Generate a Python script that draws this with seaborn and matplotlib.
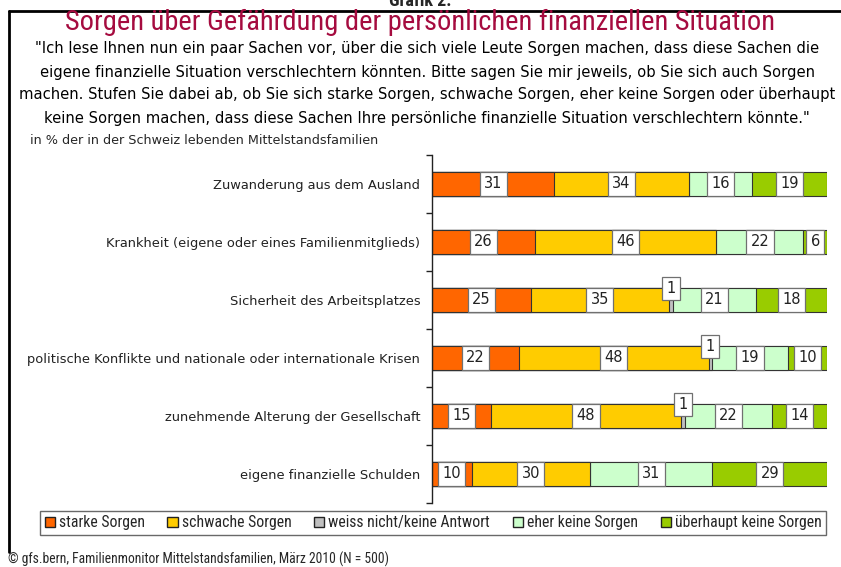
import numpy as np
import pandas as pd
import matplotlib
matplotlib.use('Agg')
import matplotlib.pyplot as plt
import matplotlib.patches as mpatches
from matplotlib import font_manager
import seaborn as sns

categories = ['Zuwanderung aus dem Ausland',
              'Krankheit (eigene oder eines Familienmitglieds)',
              'Sicherheit des Arbeitsplatzes',
              'politische Konflikte und nationale oder internationale Krisen',
              'zunehmende Alterung der Gesellschaft',
              'eigene finanzielle Schulden']
series = ['starke Sorgen', 'schwache Sorgen', 'weiss nicht/keine Antwort',
          'eher keine Sorgen', 'überhaupt keine Sorgen']
starke = [31, 26, 25, 22, 15, 10]
schwache = [34, 46, 35, 48, 48, 30]
weiss_nicht = [0, 0, 1, 1, 1, 0]
eher_keine = [16, 22, 21, 19, 22, 31]
ueberhaupt_keine = [19, 6, 18, 10, 14, 29]
colors = ['#FF6600', '#FFCC00', '#C0C0C0', '#CCFFCC', '#99CC00']

df = pd.DataFrame({'Thema': categories, series[0]: starke, series[1]: schwache,
                   series[2]: weiss_nicht, series[3]: eher_keine, series[4]: ueberhaupt_keine})
cum = df[series].cumsum(axis=1)
cum['Thema'] = df['Thema']

sns.set_style('white')

installed = {f.name for f in font_manager.fontManager.ttflist}
def pick(cands):
    for c in cands:
        if c in installed:
            return [c, 'DejaVu Sans']
    return ['DejaVu Sans']

narrow = pick(['Liberation Sans Narrow', 'Arial Narrow', 'Roboto Condensed', 'Archivo Narrow',
               'PT Sans Narrow', 'Open Sans Condensed', 'Pragati Narrow', 'Roboto'])
tahoma = pick(['Tahoma', 'DejaVu Sans'])
plt.rcParams['font.family'] = tahoma

fig = plt.figure(figsize=(8.41, 5.67), dpi=100)
ax = fig.add_axes([432 / 841, 1 - 503 / 567, 395 / 841, 348 / 567])

# stacked bars: draw cumulative totals from the last series backwards
for s, c in reversed(list(zip(series, colors))):
    sns.barplot(data=cum, x=s, y='Thema', color=c, saturation=1, orient='h', width=0.43,
                edgecolor='#333333', linewidth=0.8, ax=ax)

# value labels
for i, t in enumerate(categories):
    for s in series:
        v = df.loc[i, s]
        if v == 0:
            continue
        xc = cum.loc[i, s] - v / 2
        yc = i - 0.2 if s == series[2] else i
        ax.text(xc, yc, str(v), ha='center', va='center', fontsize=10.5, color='#222222',
                bbox=dict(boxstyle='square,pad=0.3', fc='white', ec='#707070', lw=0.9))

ax.set_xlim(0, 100)
ax.set_ylim(5.5, -0.5)
ax.set_xlabel('')
ax.set_ylabel('')
ax.set_xticks([])
ax.set_yticks(range(len(categories)))
ax.set_yticklabels(categories, fontsize=9.4, color='#222222')
ax.set_yticks(np.arange(-0.5, 6, 1), minor=True)
ax.tick_params(axis='y', which='major', length=0, pad=8.5)
ax.tick_params(axis='y', which='minor', length=4, width=1, color='#222222', direction='out', left=True)
for sp in ['top', 'right', 'bottom']:
    ax.spines[sp].set_visible(False)
ax.spines['left'].set_color('#222222')
ax.spines['left'].set_linewidth(1)

# titles
fig.text(0.5, 1 - 6 / 567, 'Grafik 2:', ha='center', va='baseline', fontsize=13,
         fontweight='bold', family=narrow)
fig.text(0.5, 1 - 22.5 / 567, 'Sorgen über Gefährdung der persönlichen finanziellen Situation',
         ha='center', va='center', fontsize=20.5, color='#A50B3F', family=narrow)
sub = ['"Ich lese Ihnen nun ein paar Sachen vor, über die sich viele Leute Sorgen machen, dass diese Sachen die',
       'eigene finanzielle Situation verschlechtern könnten. Bitte sagen Sie mir jeweils, ob Sie sich auch Sorgen',
       'machen. Stufen Sie dabei ab, ob Sie sich starke Sorgen, schwache Sorgen, eher keine Sorgen oder überhaupt',
       'keine Sorgen machen, dass diese Sachen Ihre persönliche finanzielle Situation verschlechtern könnte."']
for k, line in enumerate(sub):
    fig.text(427 / 841, 1 - (49 + 23 * k) / 567, line, ha='center', va='center', fontsize=10.6,
             color='black', family=tahoma)
fig.text(30 / 841, 1 - 140 / 567, 'in % der in der Schweiz lebenden Mittelstandsfamilien',
         ha='left', va='center', fontsize=9.2, family=tahoma)

handles = [mpatches.Patch(facecolor=c, edgecolor='#222222', label=s) for s, c in zip(series, colors)]
leg = fig.legend(handles=handles, loc='center', bbox_to_anchor=(433 / 841, 1 - 523 / 567), ncol=5,
                 prop={'family': narrow, 'size': 11.3}, frameon=True, fancybox=False,
                 handlelength=0.65, handleheight=0.65, handletextpad=0.25, columnspacing=1.45,
                 borderpad=0.3, borderaxespad=0)
leg.get_frame().set_edgecolor('#444444')
leg.get_frame().set_linewidth(1)

fig.text(8 / 841, 1 - 559 / 567, '© gfs.bern, Familienmonitor Mittelstandsfamilien, März 2010 (N = 500)',
         ha='left', va='center', fontsize=9.8, family=narrow)

# frame
fig.add_artist(plt.Line2D([9 / 841, 1], [1 - 11 / 567] * 2, color='black', lw=2, transform=fig.transFigure))
fig.add_artist(plt.Line2D([9 / 841] * 2, [1 - 11 / 567, 1 - 552 / 567], color='black', lw=2,
                          transform=fig.transFigure))

fig.savefig('out.png', dpi=100)
